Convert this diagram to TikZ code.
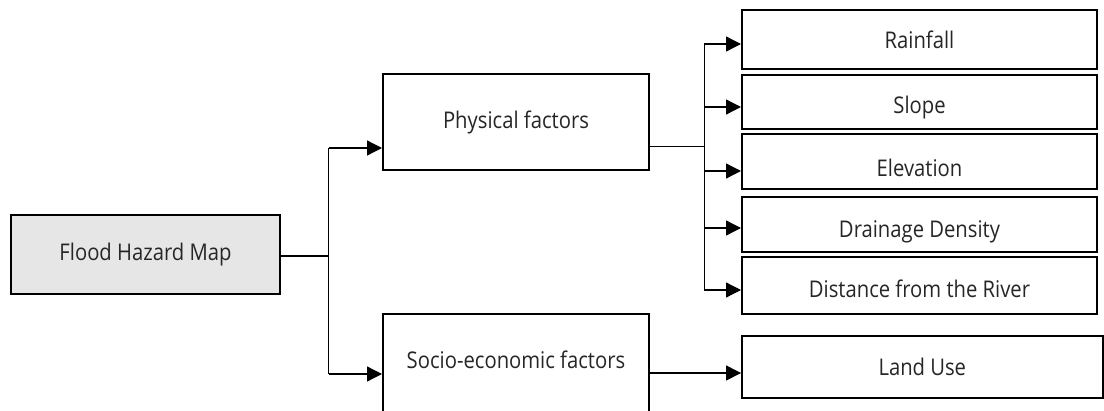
\documentclass[tikz,border=0pt]{standalone}
\usepackage{fontspec}
\setmainfont{Open Sans}[FakeStretch=0.88]
\usetikzlibrary{arrows.meta}
\definecolor{hazardfill}{HTML}{E6E6E6}
\definecolor{inkgray}{HTML}{262626}
\tikzset{
  box/.style={draw=black, line width=2pt, rectangle, inner sep=0pt, fill=white},
  txt/.style={text=inkgray, font=\fontsize{23}{27}\selectfont, inner sep=0pt,
              text height=16.4pt, text depth=0pt},
  conn/.style={line width=1.3pt},
  arr/.style={conn, -{Triangle[length=15pt,width=15pt]}},
}
\begin{document}
\begin{tikzpicture}[x=1pt,y=-1pt]
  \useasboundingbox (0,0) rectangle (1104,410);
  \clip (0,0) rectangle (1104,410);

  % root
  \node[box, fill=hazardfill, minimum width=269pt, minimum height=79pt,
        label={[txt,yshift=2.5pt]center:Flood Hazard Map}] (fhm) at (145.5,254.5) {};

  % factor groups
  \node[box, minimum width=266pt, minimum height=96pt,
        label={[txt,yshift=2pt]center:Physical factors}] (phys) at (516,122) {};
  \node[box, minimum width=266pt, minimum height=98pt,
        label={[txt,yshift=3pt]center:Socio-economic factors}] (socio) at (516,363) {};

  % physical criteria
  \node[box, minimum width=355pt, minimum height=59pt,
        label={[txt,yshift=-0.8pt]center:Rainfall}] (rain) at (919.5,39.5) {};
  \node[box, minimum width=355pt, minimum height=54pt,
        label={[txt,yshift=-3.3pt]center:Slope}] (slope) at (919.5,102) {};
  \node[box, minimum width=355pt, minimum height=55pt,
        label={[txt,yshift=-6pt]center:Elevation}] (elev) at (919.5,161.8) {};
  \node[box, minimum width=355pt, minimum height=54.4pt,
        label={[txt,yshift=-4.3pt]center:Drainage Density}] (drain) at (919.5,224.5) {};
  \node[box, minimum width=355pt, minimum height=57.3pt,
        label={[txt,yshift=-3.5pt]center:Distance from the River}] (dist) at (919.5,285.3) {};

  % socio-economic criterion
  \node[box, minimum width=360.5pt, minimum height=62pt,
        label={[txt,yshift=-0.5pt]center:Land Use}] (land) at (922.3,367) {};

  % first-level branching
  \coordinate (tM) at (328.5,256);
  \coordinate (tA) at (328.5,148);
  \coordinate (tB) at (328.5,374);
  \draw[conn] (fhm.east |- tM) -- (tM);
  \draw[conn] (tA) -- (tB);
  \draw[arr] (tA) -- (tA -| phys.west);
  \draw[arr] (tB) -- (tB -| socio.west);

  % physical branching
  \coordinate (pM) at (704.3,146.5);
  \coordinate (r1) at (704.3,44);
  \coordinate (r2) at (704.3,107);
  \coordinate (r3) at (704.3,171);
  \coordinate (r4) at (704.3,228);
  \coordinate (r5) at (704.3,290);
  \draw[conn] (phys.east |- pM) -- (pM);
  \draw[conn] (r1) -- (r5);
  \draw[arr] (r1) -- (r1 -| rain.west);
  \draw[arr] (r2) -- (r2 -| slope.west);
  \draw[arr] (r3) -- (r3 -| elev.west);
  \draw[arr] (r4) -- (r4 -| drain.west);
  \draw[arr] (r5) -- (r5 -| dist.west);

  % socio-economic link
  \coordinate (sR) at (649,373);
  \draw[arr] (socio.east |- sR) -- (sR -| land.west);
\end{tikzpicture}
\end{document}
